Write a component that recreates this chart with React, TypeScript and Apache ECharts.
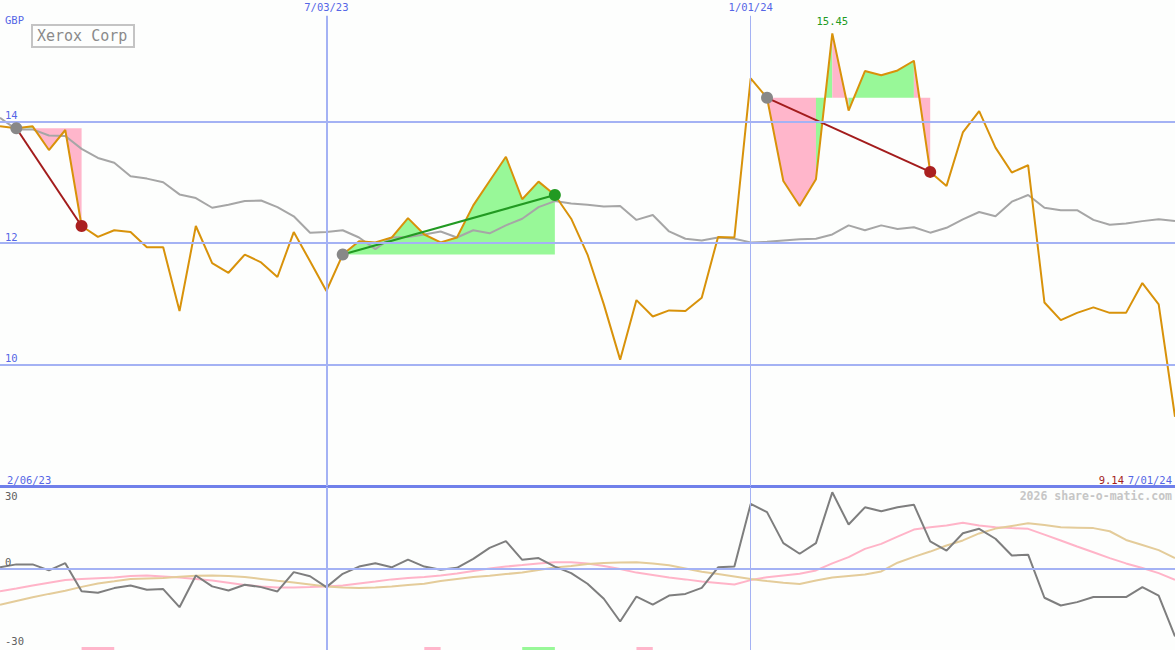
import React, { useEffect, useRef } from 'react';
import * as echarts from 'echarts';

// Weekly closing prices (GBP), 73 weeks
const closePrices = [
  13.92, 13.89, 13.92, 13.53, 13.86, 12.28, 12.10, 12.21, 12.18, 11.93,
  11.93, 10.88, 12.28, 11.67, 11.51, 11.81, 11.68, 11.44, 12.18, 11.70,
  11.21, 11.81, 12.03, 12.01, 12.09, 12.41, 12.14, 12.01, 12.09, 12.62,
  13.02, 13.42, 12.72, 13.01, 12.79, 12.40, 11.81, 10.99, 10.08, 11.06,
  10.79, 10.89, 10.88, 11.10, 12.10, 12.09, 14.71, 14.39, 13.02, 12.61,
  13.05, 15.45, 14.18, 14.83, 14.76, 14.84, 15.00, 13.17, 12.94, 13.82,
  14.17, 13.57, 13.16, 13.28, 11.02, 10.73, 10.85, 10.94, 10.85, 10.85,
  11.34, 10.99, 9.14,
];

// Moving average of the close
const movingAverage = [
  14.06, 13.87, 13.87, 13.77, 13.76, 13.55, 13.40, 13.32, 13.10, 13.06,
  13.00, 12.80, 12.74, 12.58, 12.63, 12.69, 12.70, 12.59, 12.44, 12.17,
  12.18, 12.21, 12.09, 11.90, 12.09, 12.10, 12.14, 12.19, 12.09, 12.21,
  12.16, 12.29, 12.40, 12.59, 12.69, 12.65, 12.63, 12.60, 12.61, 12.38,
  12.46, 12.19, 12.07, 12.04, 12.09, 12.07, 12.01, 12.02, 12.04, 12.06,
  12.07, 12.14, 12.29, 12.21, 12.29, 12.23, 12.26, 12.17, 12.25, 12.39,
  12.51, 12.44, 12.68, 12.79, 12.58, 12.54, 12.54, 12.38, 12.30, 12.32,
  12.36, 12.39, 12.36,
];

// Lower panel: momentum and its two smoothings
const momentum = [
  0.5, 1.7, 1.7, -0.8, 2.2, -9.4, -10.0, -8.1, -7.0, -8.8,
  -8.5, -16.0, -2.9, -7.4, -9.1, -6.7, -7.7, -9.5, -1.5, -3.2,
  -7.7, -2.2, 0.8, 2.2, 0.5, 3.7, 0.8, -0.5, 0.3, 4.0,
  8.5, 11.3, 3.6, 4.3, 0.8, -1.9, -6.3, -12.5, -21.9, -11.6,
  -14.9, -11.2, -10.5, -8.0, 0.5, 0.8, 26.7, 23.3, 10.5, 6.1,
  10.5, 31.5, 18.2, 25.3, 23.7, 25.3, 26.4, 11.2, 7.4, 14.6,
  16.4, 12.3, 5.4, 5.7, -12.1, -15.3, -13.9, -11.8, -11.8, -11.8,
  -7.7, -11.2, -28.1,
];
const momentumFast = [
  -9.4, -8.3, -7.0, -5.9, -4.8, -4.3, -4.0, -3.7, -3.1, -2.9,
  -3.3, -3.7, -4.3, -5.0, -5.9, -6.8, -7.4, -7.9, -7.9, -7.7,
  -7.4, -7.0, -6.2, -5.4, -4.5, -3.9, -3.5, -2.9, -2.1, -1.0,
  0.0, 0.8, 1.4, 2.1, 2.6, 2.6, 2.1, 1.0, -0.2, -1.7,
  -2.7, -3.7, -4.5, -5.4, -6.0, -6.6, -4.8, -3.6, -2.9, -2.2,
  -0.8, 2.1, 4.7, 8.1, 10.2, 13.2, 16.1, 17.1, 17.8, 18.9,
  17.8, 17.1, 16.7, 16.4, 14.0, 11.6, 9.1, 6.7, 4.3, 2.1,
  0.2, -1.9, -4.7,
];
const momentumSlow = [
  -15.0, -13.4, -11.9, -10.5, -9.2, -7.6, -6.2, -5.3, -4.3, -4.1,
  -3.9, -3.4, -3.0, -2.9, -3.1, -3.5, -4.3, -5.1, -5.8, -6.6,
  -7.4, -7.9, -8.1, -7.9, -7.4, -6.8, -6.3, -5.2, -4.3, -3.5,
  -3.0, -2.3, -1.7, -0.6, 0.4, 1.0, 1.9, 2.3, 2.5, 2.6,
  2.1, 1.3, 0.0, -1.3, -2.3, -3.3, -4.3, -5.2, -5.9, -6.4,
  -5.0, -3.7, -3.1, -2.5, -1.2, 2.4, 4.8, 7.0, 9.5, 11.6,
  14.5, 16.5, 17.6, 18.7, 18.0, 17.1, 16.9, 16.7, 15.4, 11.8,
  9.7, 7.6, 4.3,
];

// Price grid levels and dated week markers (week index, label)
const priceLevels = [10, 12, 14];
const dateMarkWeeks = [20, 46];
const dateMarkLabels = ['7/03/23', '1/01/24'];
const edgeDates = ['2/06/23', '7/01/24'];
const momentumTicks = [30, -30];

// Trades as [entry week, exit week]
const trades = [
  [1, 5],
  [21, 34],
  [47, 57],
];

// Signal bands along the bottom: [from week, to week, direction]
const signalBands = [
  [5, 7, -1],
  [26, 27, -1],
  [32, 34, 1],
  [39, 40, -1],
];

const MONO = '"DejaVu Sans Mono", "Liberation Mono", monospace';
const BLUE = '#5566e6';
const GRID_BLUE = '#a4b2f4';
const PINK_FILL = '#ffb6cb';
const GREEN_FILL = '#98f898';
const LOSS = '#a31c1c';
const GAIN = '#229a22';
const LAST = closePrices.length - 1;
const PRICE_MIN = 8;
const PRICE_MAX = 16;
const MOM_LIMIT = 33.7;

const pairs = (arr: number[]) => arr.map((v, i) => [i, v]);

function buildOption(): any {
  const priceGridMarks = priceLevels.map((v) => ({
    yAxis: v,
    lineStyle: { color: GRID_BLUE, width: 2, type: 'solid' },
    label: {
      show: true,
      position: 'insideStartTop',
      distance: [5, 1],
      formatter: () => String(v),
      color: BLUE,
      fontFamily: MONO,
      fontSize: 10.5,
    },
  }));

  const dateMarks = dateMarkWeeks.map((w, k) => [
    {
      name: dateMarkLabels[k],
      coord: [w, PRICE_MAX - 0.26],
      lineStyle: { color: GRID_BLUE, width: k === 0 ? 2 : 1, type: 'solid' },
      label: {
        show: true,
        position: 'start',
        distance: 3,
        formatter: '{b}',
        color: BLUE,
        fontFamily: MONO,
        fontSize: 10.5,
      },
    },
    { coord: [w, PRICE_MIN] },
  ]);

  const lowerDateMarks = dateMarkWeeks.map((w, k) => ({
    xAxis: w,
    lineStyle: { color: GRID_BLUE, width: k === 0 ? 2 : 1, type: 'solid' },
    label: { show: false },
  }));

  return {
    animation: false,
    backgroundColor: '#fdfefd',
    grid: [
      { left: 0, right: 0, top: 0, height: 486 },
      { left: 0, right: 0, top: 487, height: 163 },
    ],
    xAxis: [
      {
        type: 'value',
        gridIndex: 0,
        min: 0,
        max: LAST,
        axisLine: { show: true, onZero: false, lineStyle: { color: '#7080ea', width: 3 } },
        axisTick: { show: false },
        axisLabel: { show: false },
        splitLine: { show: false },
      },
      {
        type: 'value',
        gridIndex: 1,
        min: 0,
        max: LAST,
        show: false,
      },
    ],
    yAxis: [
      { type: 'value', gridIndex: 0, min: PRICE_MIN, max: PRICE_MAX, show: false },
      {
        type: 'value',
        gridIndex: 1,
        min: -MOM_LIMIT,
        max: MOM_LIMIT,
        axisLine: { show: false },
        axisTick: { show: false },
        splitLine: { show: false },
        axisLabel: {
          inside: true,
          customValues: momentumTicks,
          margin: 5,
          color: '#606060',
          fontFamily: MONO,
          fontSize: 10.5,
        },
      },
    ],
    series: [
      // shaded profit / loss areas between entry level and price
      {
        type: 'custom',
        xAxisIndex: 0,
        yAxisIndex: 0,
        z: 1,
        silent: true,
        data: trades,
        renderItem: (params: any, api: any) => {
          const a = api.value(0);
          const b = api.value(1);
          const level = closePrices[a];
          const children: any[] = [];
          const rising = (i: number) => closePrices[i + 1] >= level;
          let i = a;
          while (i < b) {
            const up = rising(i);
            let j = i;
            while (j + 1 < b && rising(j + 1) === up) j++;
            const pts: number[][] = [api.coord([i, level])];
            for (let k = i; k <= j + 1; k++) pts.push(api.coord([k, closePrices[k]]));
            pts.push(api.coord([j + 1, level]));
            children.push({
              type: 'polygon',
              shape: { points: pts },
              style: { fill: up ? GREEN_FILL : PINK_FILL, stroke: null },
            });
            i = j + 1;
          }
          return { type: 'group', children };
        },
      },
      {
        type: 'line',
        name: 'Average',
        xAxisIndex: 0,
        yAxisIndex: 0,
        z: 2,
        data: pairs(movingAverage),
        symbol: 'none',
        lineStyle: { color: '#a6a6a6', width: 2 },
        markLine: { silent: true, symbol: 'none', data: priceGridMarks },
      },
      {
        type: 'line',
        name: 'Close',
        xAxisIndex: 0,
        yAxisIndex: 0,
        z: 3,
        data: pairs(closePrices),
        symbol: 'none',
        lineStyle: { color: '#d8920a', width: 2 },
        markLine: { silent: true, symbol: 'none', data: dateMarks },
        markPoint: {
          silent: true,
          symbol: 'circle',
          symbolSize: 0,
          data: [{ type: 'max', valueIndex: 1 }],
          label: {
            show: true,
            position: 'top',
            distance: 7,
            color: GAIN,
            fontFamily: MONO,
            fontSize: 10.5,
            formatter: (p: any) => Number(p.value).toFixed(2),
          },
        },
      },
      {
        type: 'lines',
        coordinateSystem: 'cartesian2d',
        xAxisIndex: 0,
        yAxisIndex: 0,
        z: 4,
        silent: true,
        lineStyle: { width: 2, opacity: 1 },
        data: trades.map(([a, b]) => ({
          coords: [
            [a, closePrices[a]],
            [b, closePrices[b]],
          ],
          lineStyle: { color: closePrices[b] >= closePrices[a] ? GAIN : LOSS },
        })),
      },
      {
        type: 'scatter',
        xAxisIndex: 0,
        yAxisIndex: 0,
        z: 5,
        symbolSize: 12,
        itemStyle: { color: '#888888', opacity: 1 },
        data: trades.map(([a]) => [a, closePrices[a]]),
      },
      {
        type: 'scatter',
        xAxisIndex: 0,
        yAxisIndex: 0,
        z: 5,
        symbolSize: 12,
        data: trades.map(([a, b]) => ({
          value: [b, closePrices[b]],
          itemStyle: { color: closePrices[b] >= closePrices[a] ? GAIN : '#aa2020', opacity: 1 },
        })),
      },
      // lower panel
      {
        type: 'line',
        name: 'Momentum',
        xAxisIndex: 1,
        yAxisIndex: 1,
        z: 3,
        data: pairs(momentum),
        symbol: 'none',
        lineStyle: { color: '#7e7e7e', width: 2 },
        markLine: {
          silent: true,
          symbol: 'none',
          data: [
            {
              yAxis: 0,
              lineStyle: { color: GRID_BLUE, width: 2, type: 'solid' },
              label: {
                show: true,
                position: 'insideStartTop',
                distance: [5, 1],
                formatter: '0',
                color: '#606060',
                fontFamily: MONO,
                fontSize: 10.5,
              },
            },
            ...lowerDateMarks,
          ],
        },
      },
      {
        type: 'line',
        name: 'Fast',
        xAxisIndex: 1,
        yAxisIndex: 1,
        z: 2,
        data: pairs(momentumFast),
        symbol: 'none',
        lineStyle: { color: '#ffb4c8', width: 2 },
      },
      {
        type: 'line',
        name: 'Slow',
        xAxisIndex: 1,
        yAxisIndex: 1,
        z: 2,
        data: pairs(momentumSlow),
        symbol: 'none',
        lineStyle: { color: '#e4cc9a', width: 2 },
      },
      {
        type: 'custom',
        xAxisIndex: 1,
        yAxisIndex: 1,
        z: 2,
        silent: true,
        data: signalBands,
        renderItem: (params: any, api: any) => {
          const start = api.coord([api.value(0), -MOM_LIMIT]);
          const end = api.coord([api.value(1), -MOM_LIMIT]);
          return {
            type: 'rect',
            shape: { x: start[0], y: start[1] - 3, width: end[0] - start[0], height: 3 },
            style: { fill: api.value(2) > 0 ? GREEN_FILL : PINK_FILL },
          };
        },
      },
    ],
    graphic: [
      {
        type: 'text',
        left: 5,
        top: 14,
        style: { text: 'GBP', fill: BLUE, font: `10.5px ${MONO}` },
      },
      {
        type: 'rect',
        shape: { x: 32, y: 25, width: 102, height: 22 },
        style: { fill: 'none', stroke: '#c4c4c4', lineWidth: 2 },
      },
      {
        type: 'text',
        x: 37,
        y: 36,
        style: {
          text: 'Xerox Corp',
          fill: '#8a8a8a',
          font: `15px ${MONO}`,
          textVerticalAlign: 'middle',
          verticalAlign: 'middle',
        },
      },
      {
        type: 'text',
        x: 7,
        y: 480,
        style: { text: edgeDates[0], fill: BLUE, font: `10.5px ${MONO}`, verticalAlign: 'middle' },
      },
      {
        type: 'text',
        x: 1172,
        y: 480,
        style: { text: edgeDates[1], fill: BLUE, font: `10.5px ${MONO}`, align: 'right', verticalAlign: 'middle' },
      },
      {
        type: 'text',
        x: 1124,
        y: 480,
        style: {
          text: closePrices[LAST].toFixed(2),
          fill: LOSS,
          font: `10.5px ${MONO}`,
          align: 'right',
          verticalAlign: 'middle',
        },
      },
      {
        type: 'text',
        x: 1172,
        y: 496,
        style: {
          text: '2026 share-o-matic.com',
          fill: '#c6c6c6',
          font: `bold 11.5px ${MONO}`,
          align: 'right',
          verticalAlign: 'middle',
        },
      },
    ],
  };
}

export default function App() {
  const ref = useRef<HTMLDivElement>(null);
  useEffect(() => {
    if (!ref.current) return;
    const chart = echarts.init(ref.current, null, { renderer: 'svg' });
    chart.setOption(buildOption());
    return () => chart.dispose();
  }, []);
  return (
    <div
      ref={ref}
      style={{ position: 'absolute', left: 0, top: 0, width: 1175, height: 650, background: '#fdfefd' }}
    />
  );
}
